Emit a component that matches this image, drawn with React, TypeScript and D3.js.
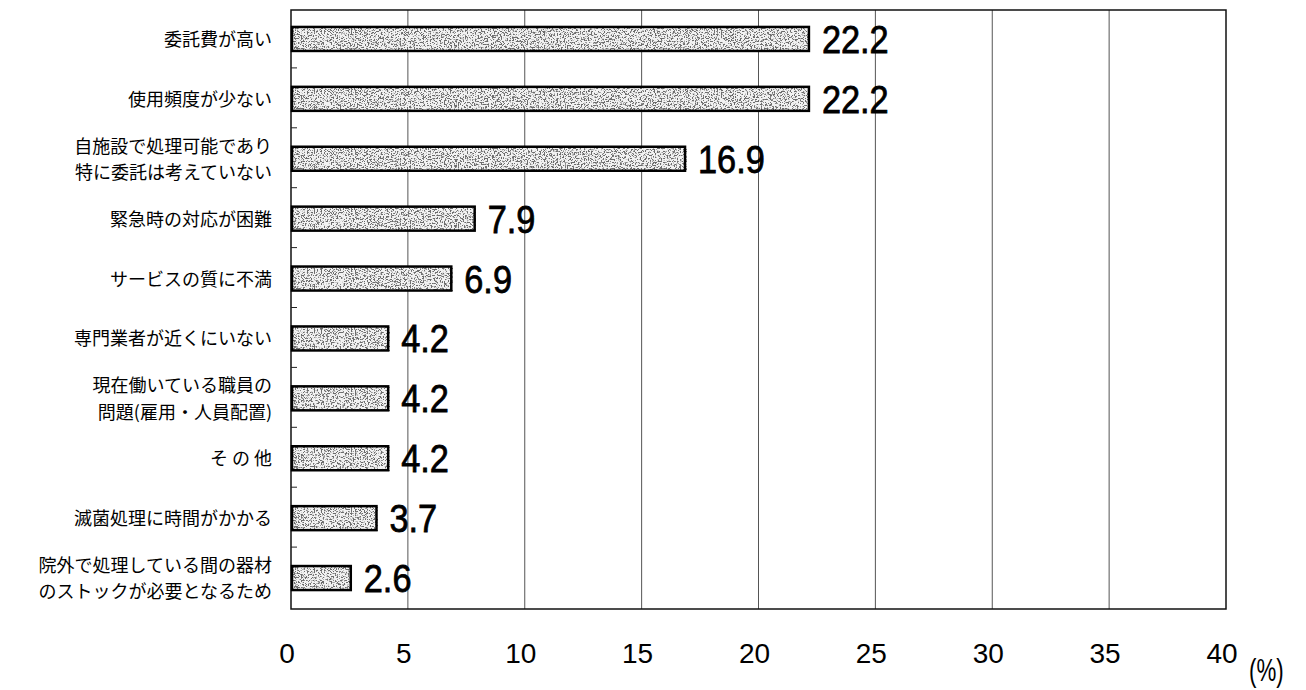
import { useRef, useEffect } from 'react'
import * as d3 from 'd3'

const categories = [
  ['委託費が高い'],
  ['使用頻度が少ない'],
  ['自施設で処理可能であり', '特に委託は考えていない'],
  ['緊急時の対応が困難'],
  ['サービスの質に不満'],
  ['専門業者が近くにいない'],
  ['現在働いている職員の', '問題(雇用・人員配置)'],
  ['そ の 他'],
  ['滅菌処理に時間がかかる'],
  ['院外で処理している間の器材', 'のストックが必要となるため'],
]
const values = [22.2, 22.2, 16.9, 7.9, 6.9, 4.2, 4.2, 4.2, 3.7, 2.6]
const xTicks = [0, 5, 10, 15, 20, 25, 30, 35, 40]

const W = 1306
const H = 690
const margin = { left: 291, right: 80, top: 10, bottom: 81 }

const App = () => {
  const ref = useRef<SVGSVGElement>(null)

  useEffect(() => {
    const svg = d3.select(ref.current as SVGSVGElement)
    svg.selectAll('*').remove()

    const x = d3.scaleLinear().domain([0, 40]).range([margin.left, W - margin.right])
    const y = d3
      .scaleBand<number>()
      .domain(d3.range(values.length))
      .range([margin.top, H - margin.bottom])
    const barH = 24

    // stippled texture for the bars
    const defs = svg.append('defs')
    const f = defs
      .append('filter')
      .attr('id', 'speckle')
      .attr('x', 0)
      .attr('y', 0)
      .attr('width', 1)
      .attr('height', 1)
    f.append('feTurbulence')
      .attr('type', 'fractalNoise')
      .attr('baseFrequency', 0.7)
      .attr('numOctaves', 3)
      .attr('seed', 11)
    f.append('feColorMatrix')
      .attr('type', 'matrix')
      .attr('values', '0 0 0 0 0.15  0 0 0 0 0.15  0 0 0 0 0.15  9 0 0 0 -4.6')

    // gridlines
    svg
      .append('g')
      .selectAll('line')
      .data(xTicks.slice(1, -1))
      .enter()
      .append('line')
      .attr('x1', (d) => x(d))
      .attr('x2', (d) => x(d))
      .attr('y1', margin.top)
      .attr('y2', H - margin.bottom)
      .attr('stroke', '#555')
      .attr('stroke-width', 1)

    // frame
    svg
      .append('rect')
      .attr('x', margin.left)
      .attr('y', margin.top)
      .attr('width', x(40) - x(0))
      .attr('height', H - margin.bottom - margin.top)
      .attr('fill', 'none')
      .attr('stroke', '#111')
      .attr('stroke-width', 1.5)

    // band ticks on left axis
    svg
      .append('g')
      .selectAll('line')
      .data(d3.range(1, values.length))
      .enter()
      .append('line')
      .attr('x1', margin.left)
      .attr('x2', margin.left + 6)
      .attr('y1', (i) => (y(i) as number) - 2)
      .attr('y2', (i) => (y(i) as number) - 2)
      .attr('stroke', '#222')
      .attr('stroke-width', 1)

    const bars = svg
      .append('g')
      .selectAll('g')
      .data(values)
      .enter()
      .append('g')
      .attr('transform', (_, i) => `translate(0, ${(y(i) as number) + y.bandwidth() / 2 - barH / 2 - 1})`)

    bars
      .append('rect')
      .attr('x', x(0))
      .attr('width', (d) => x(d) - x(0))
      .attr('height', barH)
      .attr('fill', '#f2f2f2')
    bars
      .append('rect')
      .attr('x', x(0))
      .attr('width', (d) => x(d) - x(0))
      .attr('height', barH)
      .attr('filter', 'url(#speckle)')
    bars
      .append('rect')
      .attr('x', x(0) + 1)
      .attr('y', 0)
      .attr('width', (d) => x(d) - x(0) - 2)
      .attr('height', barH)
      .attr('fill', 'none')
      .attr('stroke', '#000')
      .attr('stroke-width', 2.5)

    bars
      .append('text')
      .attr('x', (d) => x(d) + 12)
      .attr('y', barH / 2 + 14)
      .attr('font-family', '"Liberation Sans", Arial, sans-serif')
      .attr('font-size', 39)
      .attr('fill', '#000')
      .attr('stroke', '#000')
      .attr('stroke-width', 0.8)
      .attr('transform', (d) => `translate(${x(d) + 12}, 0) scale(0.88, 1) translate(${-(x(d) + 12)}, 0)`)
      .text((d) => d.toFixed(1))

    // category labels
    const labels = svg
      .append('g')
      .attr('font-family', '"Noto Sans CJK JP", sans-serif')
      .attr('font-size', 18)
      .attr('text-anchor', 'end')
      .attr('fill', '#000')
    categories.forEach((lines, i) => {
      const cy = (y(i) as number) + y.bandwidth() / 2 - 1
      lines.forEach((ln, j) => {
        labels
          .append('text')
          .attr('x', 272)
          .attr('y', cy + (j - (lines.length - 1) / 2) * 26.5 + 7)
          .text(ln)
      })
    })

    // x axis tick labels
    svg
      .append('g')
      .attr('font-family', '"Liberation Sans", Arial, sans-serif')
      .attr('font-size', 28)
      .attr('text-anchor', 'middle')
      .selectAll('text')
      .data(xTicks)
      .enter()
      .append('text')
      .attr('x', (d) => x(d) - 4)
      .attr('y', 663)
      .text((d) => String(d))

    svg
      .append('text')
      .attr('x', 1249)
      .attr('y', 681)
      .attr('font-family', '"Liberation Sans", Arial, sans-serif')
      .attr('font-size', 31)
      .attr('transform', 'translate(1249,0) scale(0.72,1) translate(-1249,0)')
      .text('(%)')
  }, [])

  return (
    <svg
      ref={ref}
      width={W}
      height={H}
      style={{ position: 'absolute', left: 0, top: 0, background: '#fff' }}
    />
  )
}

export default App
